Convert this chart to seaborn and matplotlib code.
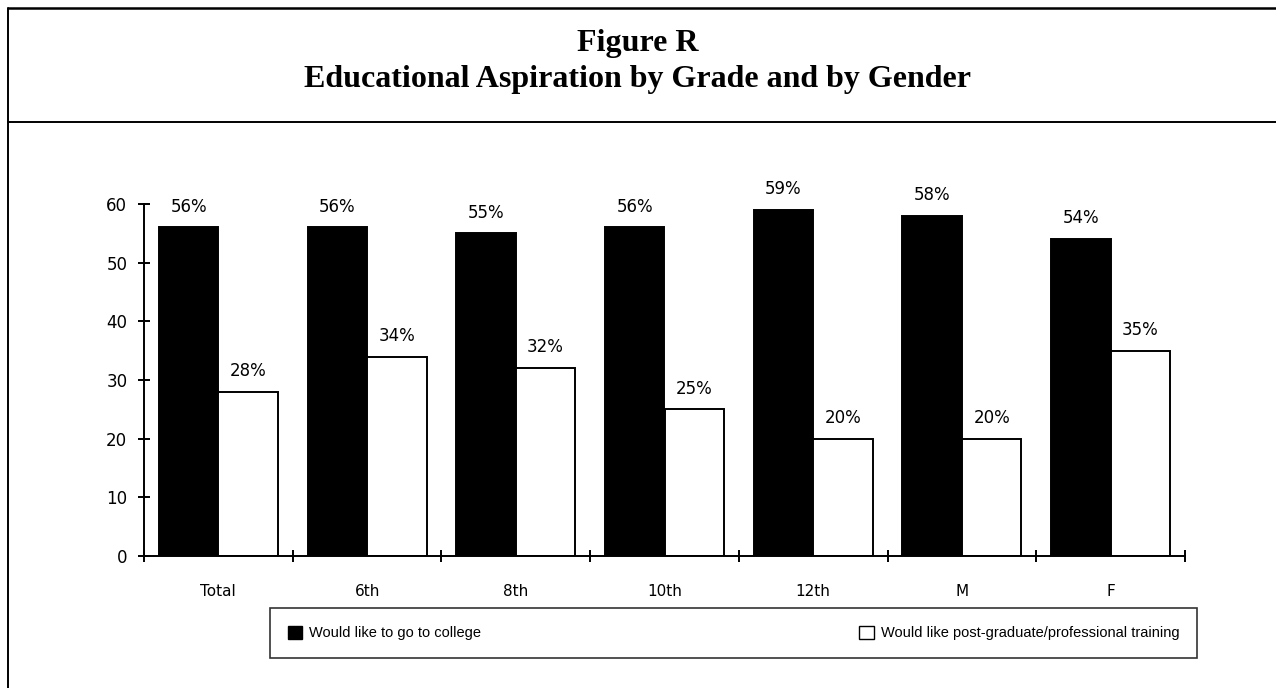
import matplotlib
matplotlib.use("Agg")
import matplotlib.pyplot as plt
from matplotlib.lines import Line2D
from matplotlib.patches import Patch
import seaborn as sns
import pandas as pd

groups = ["Total", "6th", "8th", "10th", "12th", "M", "F"]
college = [56, 56, 55, 56, 59, 58, 54]
postgrad = [28, 34, 32, 25, 20, 20, 35]
series_names = ["Would like to go to college",
                "Would like post-graduate/professional training"]
yticks = [0, 10, 20, 30, 40, 50, 60]

df = pd.DataFrame({
    "group": groups * 2,
    "value": college + postgrad,
    "series": [series_names[0]] * len(groups) + [series_names[1]] * len(groups),
})

sns.set_style("white")
plt.rcParams["font.family"] = ["DejaVu Sans"]
plt.rcParams["text.color"] = "black"
plt.rcParams["xtick.color"] = "black"
plt.rcParams["ytick.color"] = "black"

fig = plt.figure(figsize=(12.76, 6.88), dpi=100)
W, H = 1276, 688
def fx(px):
    return px / W
def fy(py):
    return 1 - py / H

ax = fig.add_axes([fx(144), fy(556), fx(1185) - fx(144), fy(204) - fy(556)])

sns.barplot(data=df, x="group", y="value", hue="series", order=groups,
            hue_order=series_names, palette=["black", "white"],
            edgecolor="black", linewidth=1.4, width=0.8, ax=ax, legend=False)

ax.set_ylim(0, 60)
ax.set_xlim(-0.5, len(groups) - 0.5)
ax.set_xlabel("")
ax.set_ylabel("")
for s in ["top", "right"]:
    ax.spines[s].set_visible(False)
for s in ["left", "bottom"]:
    ax.spines[s].set_linewidth(1.4)
    ax.spines[s].set_color("black")

ax.set_yticks(yticks)
ax.set_yticklabels([str(t) for t in yticks], fontsize=12)
ax.tick_params(axis="y", left=True, direction="inout", length=9, width=1.4, pad=7.5)

ax.set_xticks(range(len(groups)))
ax.set_xticklabels(groups, fontsize=11)
ax.tick_params(axis="x", which="major", bottom=True, length=0, pad=20)
ax.set_xticks([i - 0.5 for i in range(len(groups) + 1)], minor=True)
ax.tick_params(axis="x", which="minor", bottom=True, direction="inout",
               length=9, width=1.4)

for i, v in enumerate(college):
    ax.annotate(f"{v}%", (i - 0.2, v), xytext=(0, 15),
                textcoords="offset points", ha="center", va="center", fontsize=12)
for i, v in enumerate(postgrad):
    ax.annotate(f"{v}%", (i + 0.2, v), xytext=(0, 15),
                textcoords="offset points", ha="center", va="center", fontsize=12)

# title block
fig.text(0.5, fy(43), "Figure R", ha="center", va="center", fontsize=23,
         fontweight="bold", family="Liberation Serif")
fig.text(0.5, fy(79), "Educational Aspiration by Grade and by Gender", ha="center",
         va="center", fontsize=23, fontweight="bold", family="Liberation Serif")

# frame lines
fig.add_artist(Line2D([fx(8), 1], [fy(8), fy(8)], color="black", lw=1.8))
fig.add_artist(Line2D([fx(8), fx(8)], [fy(8), 0], color="black", lw=1.4))
fig.add_artist(Line2D([fx(8), 1], [fy(122), fy(122)], color="black", lw=1.4))

handles = [Patch(facecolor="black", edgecolor="black"),
           Patch(facecolor="white", edgecolor="black")]
leg = fig.legend(handles, series_names, loc="lower left", ncol=2, mode="expand",
                 bbox_to_anchor=(fx(270), fy(658), fx(1197) - fx(270), fy(607) - fy(658)),
                 prop={"family": "Liberation Sans", "size": 10.5},
                 frameon=True, fancybox=False, handlelength=1.0,
                 handleheight=1.0, handletextpad=0.5, borderaxespad=0,
                 borderpad=1.2)
leg.get_frame().set_edgecolor("black")
leg.get_frame().set_linewidth(1.2)

fig.savefig("out.png", dpi=100)
